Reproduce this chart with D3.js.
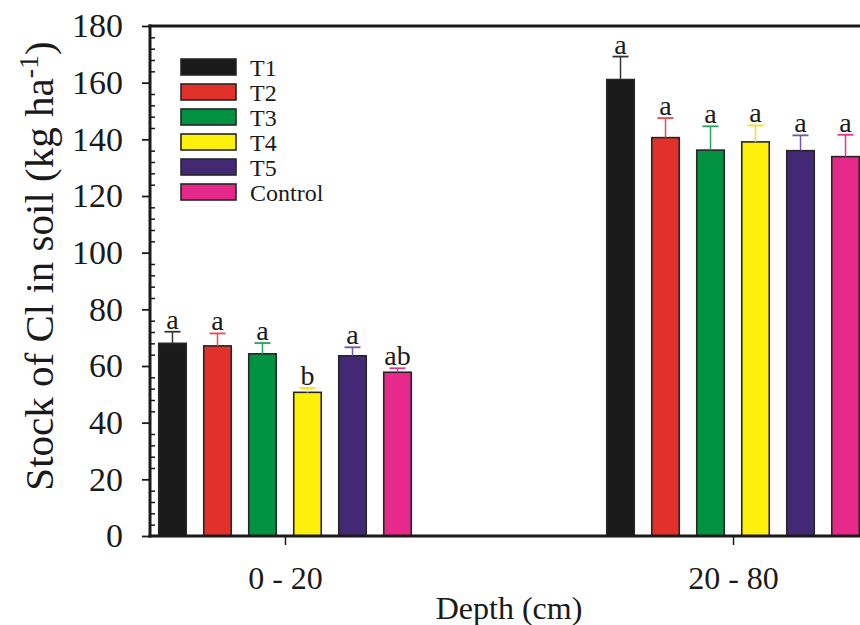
<!DOCTYPE html>
<html>
<head>
<meta charset="utf-8">
<script src="https://cdn.jsdelivr.net/npm/d3@7"></script>
<style>
  html, body { margin: 0; padding: 0; background: #fff; }
  svg { display: block; }
  text { font-family: "Liberation Serif", "Times New Roman", serif; fill: #1a1a1a; }
</style>
</head>
<body>
<svg id="chart" width="860" height="625"></svg>
<script>
// ---- data ----
const categories = ["0 - 20", "20 - 80"];
const series = ["T1", "T2", "T3", "T4", "T5", "Control"];
const values020 = [68.0, 67.1, 64.3, 50.7, 63.6, 57.8];
const values2080 = [161.1, 140.6, 136.2, 139.1, 136.0, 133.9];
const errors020 = [4.1, 4.4, 3.8, 1.5, 3.0, 1.4];
const errors2080 = [8.1, 6.9, 8.4, 5.8, 5.4, 7.7];
const letters020 = ["a", "a", "a", "b", "a", "ab"];
const letters2080 = ["a", "a", "a", "a", "a", "a"];
const yTicks = [0, 20, 40, 60, 80, 100, 120, 140, 160, 180];
const colors = ["#1a1a1a", "#e2312b", "#009241", "#fff00c", "#432874", "#e6288a"];
const errColors = ["#333333", "#ef4a4a", "#26a35c", "#f2e21a", "#6a5aa8", "#e8348f"];

const valuesByCat = [values020, values2080];
const errorsByCat = [errors020, errors2080];
const lettersByCat = [letters020, letters2080];

const svg = d3.select("#chart");
const pLeft = 150, pRight = 868, pTop = 26, pBottom = 536;

const x0 = d3.scalePoint().domain(categories).range([pLeft, pRight]).padding(0.3013);
const x1 = d3.scaleBand().domain(series).range([-135, 135]).paddingInner(0.389).paddingOuter(0.1944);
const y = d3.scaleLinear().domain([0, 180]).range([pBottom, pTop]);

// bars
const rows = [];
categories.forEach((c, ci) => {
  series.forEach((s, si) => {
    rows.push({cat: c, s, si, v: valuesByCat[ci][si], e: errorsByCat[ci][si], l: lettersByCat[ci][si]});
  });
});

const g = svg.append("g");
g.selectAll("rect.bar").data(rows).enter().append("rect")
  .attr("class", "bar")
  .attr("x", d => x0(d.cat) + x1(d.s))
  .attr("y", d => y(d.v))
  .attr("width", x1.bandwidth())
  .attr("height", d => y(0) - y(d.v))
  .attr("fill", d => colors[d.si])
  .attr("stroke", "#262626")
  .attr("stroke-width", 1.6);

// error bars
const cx = d => x0(d.cat) + x1(d.s) + x1.bandwidth() / 2;
g.selectAll("line.err").data(rows).enter().append("line")
  .attr("x1", cx).attr("x2", cx)
  .attr("y1", d => y(d.v)).attr("y2", d => y(d.v + d.e))
  .attr("stroke", d => errColors[d.si]).attr("stroke-width", 1.5);
g.selectAll("line.cap").data(rows).enter().append("line")
  .attr("x1", d => cx(d) - 8).attr("x2", d => cx(d) + 8)
  .attr("y1", d => y(d.v + d.e)).attr("y2", d => y(d.v + d.e))
  .attr("stroke", d => errColors[d.si]).attr("stroke-width", 1.8);

// letters
g.selectAll("text.sig").data(rows).enter().append("text")
  .attr("x", cx)
  .attr("y", d => y(d.v + d.e) - 3)
  .attr("text-anchor", "middle")
  .attr("font-size", 28)
  .text(d => d.l);

// frame top line
svg.append("line").attr("x1", pLeft - 1.5).attr("x2", pRight).attr("y1", pTop).attr("y2", pTop)
  .attr("stroke", "#1a1a1a").attr("stroke-width", 3);

// y axis: major ticks outside
const yAxis = d3.axisLeft(y).tickValues(yTicks).tickSize(8).tickPadding(19).tickSizeOuter(0);
const ya = svg.append("g").attr("transform", `translate(${pLeft},0)`).call(yAxis);
ya.select(".domain").remove();
ya.selectAll(".tick line").attr("stroke", "#1a1a1a").attr("stroke-width", 1.8);
ya.selectAll(".tick text").attr("font-size", 34).attr("font-family", "Liberation Serif, serif").attr("fill", "#1a1a1a");

// minor ticks inside
const minor = d3.range(0, 181, 4).filter(v => v % 20 !== 0);
const yMinor = d3.axisRight(y).tickValues(minor).tickSize(5).tickFormat("");
const ym = svg.append("g").attr("transform", `translate(${pLeft},0)`).call(yMinor);
ym.select(".domain").remove();
ym.selectAll(".tick line").attr("stroke", "#1a1a1a").attr("stroke-width", 1.5);

svg.append("line").attr("x1", pLeft).attr("x2", pLeft).attr("y1", pTop - 1.5).attr("y2", pBottom + 1.5)
  .attr("stroke", "#1a1a1a").attr("stroke-width", 3);

// x axis
const xAxis = d3.axisBottom(x0).tickSize(9).tickPadding(21).tickSizeOuter(0);
const xa = svg.append("g").attr("transform", `translate(0,${pBottom})`).call(xAxis);
xa.select(".domain").remove();
xa.selectAll(".tick line").attr("stroke", "#1a1a1a").attr("stroke-width", 1.5);
xa.selectAll(".tick text").attr("font-size", 32).attr("font-family", "Liberation Serif, serif").attr("fill", "#1a1a1a");
svg.append("line").attr("x1", pLeft - 1.5).attr("x2", pRight).attr("y1", pBottom).attr("y2", pBottom)
  .attr("stroke", "#1a1a1a").attr("stroke-width", 3);

// axis titles
svg.append("text").attr("x", (pLeft + pRight) / 2).attr("y", 619)
  .attr("text-anchor", "middle").attr("font-size", 32).text("Depth (cm)");

const yt = svg.append("text")
  .attr("transform", "translate(53,266) rotate(-90)")
  .attr("text-anchor", "middle").attr("font-size", 41);
yt.append("tspan").text("Stock of Cl in soil (kg ha");
yt.append("tspan").attr("font-size", 28).attr("dy", -15).text("-1");
yt.append("tspan").attr("dy", 15).text(")");

// legend
const leg = svg.append("g");
series.forEach((s, i) => {
  leg.append("rect").attr("x", 181).attr("y", 59 + i * 25).attr("width", 55).attr("height", 16)
    .attr("fill", colors[i]).attr("stroke", "#262626").attr("stroke-width", 1.6);
  leg.append("text").attr("x", 250).attr("y", 76 + i * 25).attr("font-size", 24).text(s);
});
</script>
</body>
</html>
